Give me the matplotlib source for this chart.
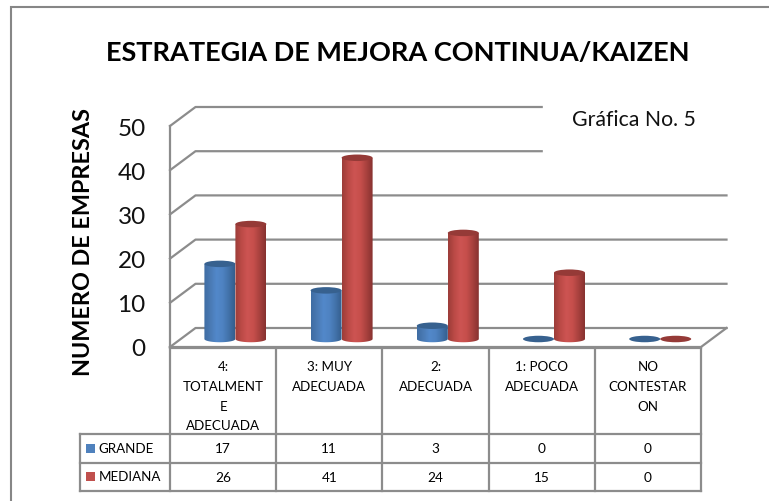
import numpy as np
import matplotlib
matplotlib.use("Agg")
import matplotlib.pyplot as plt
from matplotlib.patches import Ellipse, Rectangle, PathPatch
from matplotlib.path import Path
from matplotlib.colors import LinearSegmentedColormap

plt.rcParams['font.family'] = ['Lato', 'DejaVu Sans']

categories = ["4:\nTOTALMENT\nE\nADECUADA", "3: MUY\nADECUADA", "2:\nADECUADA",
              "1: POCO\nADECUADA", "NO\nCONTESTAR\nON"]
series_names = ["GRANDE", "MEDIANA"]
grande = [17, 11, 3, 0, 0]
mediana = [26, 41, 24, 15, 0]
y_ticks = [0, 10, 20, 30, 40, 50]

W, H = 769, 502
GRID = "#8c8c8c"
LEFT, RIGHT, BOTTOM, TOP = 170, 701, 348, 127

fig = plt.figure(figsize=(W / 100, H / 100), dpi=100)

# overlay in pixel coords for frame, table and text
bg = fig.add_axes([0, 0, 1, 1])
bg.set_xlim(0, W)
bg.set_ylim(H, 0)
bg.axis("off")

# plot axes: x in categories, y in values
ax = fig.add_axes([LEFT / W, 1 - BOTTOM / H, (RIGHT - LEFT) / W, (BOTTOM - TOP) / H])
ax.set_xlim(0, 5)
ax.set_ylim(0, 50)
ax.patch.set_alpha(0)
for s in ax.spines.values():
    s.set_visible(False)
ax.set_xticks([])
ax.set_yticks(y_ticks)
ax.tick_params(axis="y", length=0, pad=17.5, labelsize=17.5, labelcolor="#111111")

# depth of the 3d box, in data units
dx = 25.5 / ((RIGHT - LEFT) / 5)
dy = 19 / ((BOTTOM - TOP) / 50)
base = 8 / ((BOTTOM - TOP) / 50)

# outer frame of the chart
bg.plot([11, 11, W], [H, 8, 8], color="#868686", lw=1.5, solid_joinstyle="miter")

# walls and gridlines
for v in y_ticks:
    xr = 5 + dx if v < 40 else 3.5
    ax.plot([0, dx, xr], [v, v + dy, v + dy], color=GRID, lw=1.6, clip_on=False, zorder=1)
ax.plot([0, 0], [0, 50], color=GRID, lw=1.6, clip_on=False, zorder=1)
ax.plot([0, 5, 5 + dx], [0, 0, dy], color=GRID, lw=1.6, clip_on=False, zorder=1)

blue_cm = LinearSegmentedColormap.from_list("b", ["#3f6da3", "#4a7ab4", "#5288ca", "#4f83c2", "#4272aa", "#355e8d"])
red_cm = LinearSegmentedColormap.from_list("r", ["#9c3d39", "#bb4a46", "#cd5452", "#c64f4c", "#a8413e", "#873230"])
shade = np.linspace(0, 1, 64).reshape(1, -1)

bar_w = 31 / ((RIGHT - LEFT) / 5)
ell_h = 6.5 / ((BOTTOM - TOP) / 50)
offset = 12.3 / ((RIGHT - LEFT) / 5)


def cylinder(xc, val, cm, top_color, z):
    x0, x1 = xc - bar_w / 2, xc + bar_w / 2
    y0, y1 = base, base + val
    if val > 0:
        # body outline with rounded lower edge, used to clip the gradient
        t = np.linspace(np.pi, 2 * np.pi, 40)
        px = np.r_[xc + bar_w / 2 * np.cos(t), x1, x0]
        py = np.r_[y0 + ell_h / 2 * np.sin(t), y1, y1]
        body = PathPatch(Path(np.c_[px, py]), transform=ax.transData, facecolor="none", edgecolor="none")
        ax.add_patch(body)
        im = ax.imshow(shade, cmap=cm, extent=(x0, x1, y0 - ell_h, y1), aspect="auto", zorder=z)
        im.set_clip_path(body)
    ax.add_patch(Ellipse((xc, y1), bar_w, ell_h, facecolor=top_color, edgecolor="none", zorder=z + 0.5))


for i in range(len(categories)):
    xc = i + 0.5 + offset
    cylinder(xc - bar_w / 2, grande[i], blue_cm, "#37618f", 3)
    cylinder(xc + bar_w / 2, mediana[i], red_cm, "#953a37", 4)

ax.set_xlim(0, 5)
ax.set_ylim(0, 50)

# data table
col_x = np.linspace(LEFT, RIGHT, len(categories) + 1)
rows_y = [349, 434.5, 463.5, 492]
for x in col_x:
    bg.plot([x, x], [rows_y[0], rows_y[-1]], color=GRID, lw=1.6)
bg.plot([LEFT, RIGHT], [rows_y[0], rows_y[0]], color=GRID, lw=1.6)
for y in rows_y[1:]:
    bg.plot([80, RIGHT], [y, y], color=GRID, lw=1.6)
bg.plot([80, 80], [rows_y[1], rows_y[-1]], color=GRID, lw=1.6)

line_h = 19.6
for i, cat in enumerate(categories):
    xm = (col_x[i] + col_x[i + 1]) / 2
    for j, part in enumerate(cat.split("\n")):
        bg.text(xm, 367.5 + j * line_h, part, ha="center", va="center", fontsize=9.6, color="#000000")
    bg.text(xm, 449, str(grande[i]), ha="center", va="center", fontsize=9.8, color="#000000")
    bg.text(xm, 478, str(mediana[i]), ha="center", va="center", fontsize=9.8, color="#000000")

for name, y, c in zip(series_names, [449, 477.5], ["#4f81bd", "#c0504d"]):
    bg.add_patch(Rectangle((86, y - 4.5), 9, 9, facecolor=c, edgecolor="none"))
    bg.text(98.5, y, name, ha="left", va="center", fontsize=9.6, color="#000000")

bg.text(398, 53.5, "ESTRATEGIA DE MEJORA CONTINUA/KAIZEN", ha="center", va="center",
        fontsize=19.5, fontweight="bold", color="#000000")
bg.text(84, 242, "NUMERO DE EMPRESAS", rotation=90, ha="center", va="center",
        fontsize=16.8, fontweight="bold", color="#000000")
bg.text(633.5, 120, "Gráfica No. 5", ha="center", va="center", fontsize=15.3, color="#111111")

fig.savefig("out.png", dpi=100)
